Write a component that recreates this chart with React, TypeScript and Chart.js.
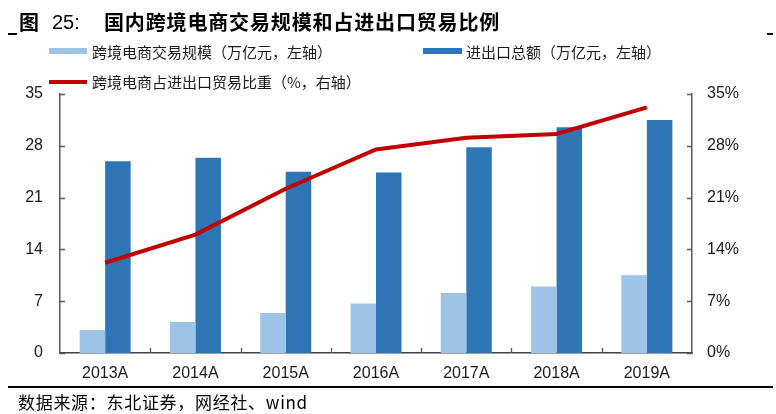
import React, { useEffect, useRef } from "react";
import { Chart, registerables } from "chart.js";

Chart.register(...registerables);

const categories = ["2013A", "2014A", "2015A", "2016A", "2017A", "2018A", "2019A"];
const crossBorderScale = [3.1, 4.2, 5.4, 6.7, 8.1, 9.0, 10.5];
const totalTrade = [25.9, 26.4, 24.5, 24.4, 27.8, 30.5, 31.5];
const shareRatio = [12.2, 16.0, 22.2, 27.5, 29.1, 29.6, 33.2];
const axisMax = 35;
const axisStep = 7;

const seriesNames = [
  "跨境电商交易规模（万亿元，左轴）",
  "进出口总额（万亿元，左轴）",
  "跨境电商占进出口贸易比重（%，右轴）",
];
const titleLabel = "图 25:";
const titleText = "国内跨境电商交易规模和占进出口贸易比例";
const sourceText = "数据来源：东北证券，网经社、wind";

const LIGHT = "#9DC3E6";
const DARK = "#2E75B6";
const RED = "#C00000";
const AXIS = "#595959";
const TEXT = "#1a1a1a";

const inwardTicks = {
  id: "inwardTicks",
  afterDraw(chart: any) {
    const { ctx, chartArea } = chart;
    const { left, right, bottom } = chartArea;
    const y = chart.scales.y;
    const x = chart.scales.x;
    ctx.save();
    ctx.strokeStyle = AXIS;
    ctx.lineWidth = 1.3;
    ctx.beginPath();
    y.ticks.forEach((t: any) => {
      const py = Math.round(y.getPixelForValue(t.value)) + 0.5;
      ctx.moveTo(left, py);
      ctx.lineTo(left + 5, py);
      ctx.moveTo(right - 5, py);
      ctx.lineTo(right, py);
    });
    for (let i = 1; i < categories.length; i++) {
      const px = Math.round((x.getPixelForTick(i - 1) + x.getPixelForTick(i)) / 2) + 0.5;
      ctx.moveTo(px, bottom);
      ctx.lineTo(px, bottom - 5);
    }
    ctx.stroke();
    ctx.restore();
  },
};

export default function App() {
  const ref = useRef<HTMLCanvasElement | null>(null);

  useEffect(() => {
    if (!ref.current) return;
    const tickFont = { family: "'Liberation Sans', Arial, sans-serif", size: 16 };
    const chart = new Chart(ref.current, {
      type: "bar",
      data: {
        labels: categories,
        datasets: [
          {
            type: "line",
            label: seriesNames[2],
            data: shareRatio,
            yAxisID: "y1",
            borderColor: RED,
            backgroundColor: RED,
            borderWidth: 4,
            pointRadius: 0,
            tension: 0,
            order: 0,
          } as any,
          {
            type: "bar",
            label: seriesNames[0],
            data: crossBorderScale,
            yAxisID: "y",
            backgroundColor: LIGHT,
            borderWidth: 0,
            categoryPercentage: 0.565,
            barPercentage: 1.0,
            order: 1,
          },
          {
            type: "bar",
            label: seriesNames[1],
            data: totalTrade,
            yAxisID: "y",
            backgroundColor: DARK,
            borderWidth: 0,
            categoryPercentage: 0.565,
            barPercentage: 1.0,
            order: 2,
          },
        ],
      },
      options: {
        animation: false,
        responsive: false,
        maintainAspectRatio: false,
        layout: { padding: { top: 94, left: 0, right: 0, bottom: 0 } },
        plugins: {
          legend: { display: false },
          title: { display: false },
          tooltip: { enabled: false },
        },
        scales: {
          x: {
            type: "category",
            offset: true,
            grid: { display: false, drawTicks: false },
            border: { display: true, color: "#404040", width: 1.5 },
            ticks: { font: tickFont, color: TEXT, padding: 11, maxRotation: 0 },
            afterFit(scale: any) {
              scale.height = 61;
            },
          },
          y: {
            position: "left",
            min: 0,
            max: axisMax,
            grid: { display: false, drawTicks: false },
            border: { display: true, color: AXIS, width: 1.5 },
            ticks: { stepSize: axisStep, font: tickFont, color: TEXT, padding: 17 },
            afterFit(scale: any) {
              scale.width = 60;
            },
          },
          y1: {
            position: "right",
            min: 0,
            max: axisMax,
            grid: { display: false, drawTicks: false },
            border: { display: true, color: AXIS, width: 1.5 },
            ticks: {
              stepSize: axisStep,
              font: tickFont,
              color: TEXT,
              padding: 15,
              callback: (v: any) => `${v}%`,
            },
            afterFit(scale: any) {
              scale.width = 84;
            },
          },
        },
      },
      plugins: [inwardTicks],
    });
    return () => chart.destroy();
  }, []);

  const cjk = "'Noto Sans CJK SC', 'Liberation Sans', sans-serif";
  const legendText: React.CSSProperties = {
    position: "absolute",
    fontFamily: cjk,
    fontSize: 15,
    lineHeight: "18px",
    color: TEXT,
    whiteSpace: "nowrap",
  };

  return (
    <div
      style={{
        position: "fixed",
        left: 0,
        top: 0,
        width: 776,
        height: 414,
        background: "#fff",
        overflow: "hidden",
      }}
    >
      <canvas
        ref={ref}
        width={776}
        height={414}
        style={{ position: "absolute", left: 0, top: 0, width: 776, height: 414 }}
      />
      {/* title */}
      <div
        style={{
          position: "absolute",
          left: 19,
          top: 11,
          fontFamily: cjk,
          fontWeight: 700,
          fontSize: 20,
          lineHeight: "22px",
          color: "#000",
          whiteSpace: "nowrap",
        }}
      >
        {titleLabel.split(" ")[0]}
      </div>
      <div
        style={{
          position: "absolute",
          left: 52,
          top: 11,
          fontFamily: "'Liberation Sans', Arial, sans-serif",
          fontSize: 20,
          lineHeight: "22px",
          color: "#000",
          whiteSpace: "nowrap",
        }}
      >
        {titleLabel.split(" ")[1]}
      </div>
      <div
        style={{
          position: "absolute",
          left: 104,
          top: 11,
          fontFamily: cjk,
          fontWeight: 700,
          fontSize: 20,
          lineHeight: "22px",
          letterSpacing: "0.85px",
          color: "#000",
          whiteSpace: "nowrap",
        }}
      >
        {titleText}
      </div>
      <div style={{ position: "absolute", left: 8, top: 33, width: 9, height: 1.5, background: "#000" }} />
      <div style={{ position: "absolute", left: 767, top: 33, width: 6, height: 1.5, background: "#000" }} />

      {/* legend */}
      <div style={{ position: "absolute", left: 49, top: 48, width: 38, height: 6, background: LIGHT }} />
      <div style={{ ...legendText, left: 92, top: 43 }}>{seriesNames[0]}</div>
      <div style={{ position: "absolute", left: 423, top: 48, width: 39, height: 6, background: DARK }} />
      <div style={{ ...legendText, left: 466, top: 43 }}>{seriesNames[1]}</div>
      <div style={{ position: "absolute", left: 49, top: 80, width: 38, height: 4, background: RED }} />
      <div style={{ ...legendText, left: 92, top: 73 }}>{seriesNames[2]}</div>

      {/* source */}
      <div style={{ position: "absolute", left: 8, top: 386, width: 765, height: 1.5, background: "#000" }} />
      <div
        style={{
          position: "absolute",
          left: 18,
          top: 392,
          fontFamily: cjk,
          fontSize: 17,
          lineHeight: "20px",
          letterSpacing: "0.7px",
          color: "#000",
          whiteSpace: "nowrap",
        }}
      >
        {sourceText}
      </div>
    </div>
  );
}
